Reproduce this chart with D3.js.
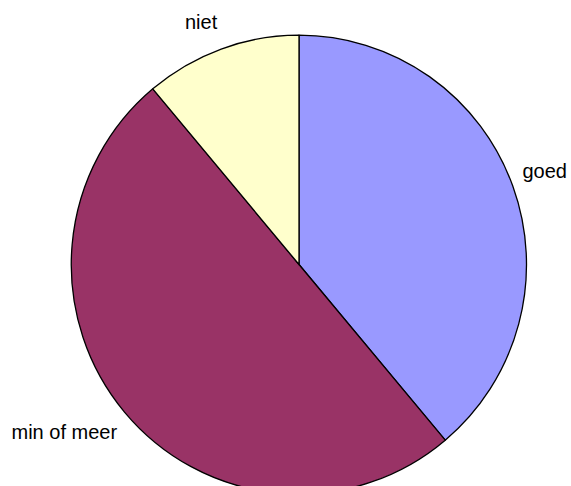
<!DOCTYPE html>
<html>
<head>
<meta charset="utf-8">
<script src="https://cdn.jsdelivr.net/npm/d3@7"></script>
<style>
  html, body { margin: 0; padding: 0; background: #fff; }
  svg { display: block; }
</style>
</head>
<body>
<svg id="chart" width="571" height="486"></svg>
<script>
const categories = ["goed", "min of meer", "niet"];
const values = [35, 45, 10];
const colors = ["#9999FF", "#993366", "#FFFFCC"];

const svg = d3.select("#chart");
const cx = 299, cy = 264.5, r = 227.5;
const g = svg.append("g").attr("transform", `translate(${cx},${cy}) scale(1,1.008)`);

const pie = d3.pie().sort(null).value(d => d.v);
const arcs = pie(categories.map((c, i) => ({ c, v: values[i], col: colors[i] })));
const arc = d3.arc().innerRadius(0).outerRadius(r);

g.selectAll("path").data(arcs).enter().append("path")
  .attr("d", arc)
  .attr("fill", d => d.data.col)
  .attr("stroke", "#000")
  .attr("stroke-width", 1.3)
  .attr("stroke-linejoin", "round");

const labelPos = {
  "goed": [522.5, 178],
  "min of meer": [11.5, 439],
  "niet": [185, 29]
};
svg.selectAll("text.lbl").data(categories).enter().append("text")
  .attr("class", "lbl")
  .attr("x", d => labelPos[d][0])
  .attr("y", d => labelPos[d][1])
  .attr("text-anchor", "start")
  .attr("font-family", "Liberation Sans, Arial, sans-serif")
  .attr("font-size", 20)
  .attr("fill", "#000")
  .text(d => d);
</script>
</body>
</html>
